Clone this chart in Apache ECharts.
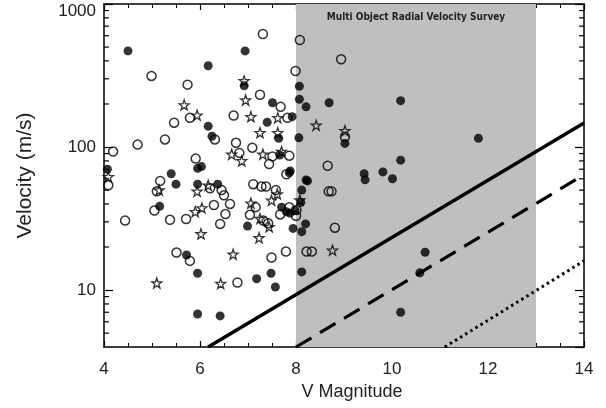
<!DOCTYPE html>
<html>
<head>
<meta charset="utf-8">
<script src="https://cdn.jsdelivr.net/npm/echarts@6/dist/echarts.min.js"></script>
<style>
  html, body { margin: 0; padding: 0; background: #fff; }
  #chart { width: 606px; height: 408px; }
</style>
</head>
<body>
<div id="chart"></div>
<script>
// [V magnitude, velocity m/s]
const filledPts = [
  [4.5, 470], [6.94, 470], [6.17, 370], [6.92, 268], [7.51, 204], [6.17, 140], [6.25, 119],
  [7.4, 149], [7.92, 163], [8.07, 216], [8.07, 266], [8.06, 116], [7.64, 115], [7.66, 88],
  [7.88, 68], [4.07, 70], [5.4, 65], [5.5, 55], [5.95, 71], [5.95, 55], [6.37, 55], [6.03, 73],
  [8.21, 191], [8.69, 204], [10.18, 211], [9.02, 106], [11.8, 115], [10.18, 81], [8.24, 58],
  [8.12, 50], [9.42, 65], [9.44, 59], [9.81, 67], [10.01, 60], [8.1, 41], [7.7, 38], [7.8, 35.3],
  [7.875, 34.5], [7.98, 36], [7.94, 27], [8.12, 25.6], [8.2, 29], [8.21, 58.8], [5.16, 38.5],
  [5.72, 17.6], [5.95, 13.1], [5.95, 6.8], [6.42, 6.6], [7.18, 12], [7.48, 13.1], [7.57, 10.5],
  [6.99, 28], [8.12, 13.4], [10.69, 18.4], [10.58, 13.2], [10.18, 7.0], [7.86, 66]
]
const openPts = [
  [7.31, 617], [8.08, 560], [8.94, 411], [4.99, 314], [5.74, 273], [7.99, 340], [7.25, 232],
  [7.68, 191], [5.79, 160], [5.46, 148], [6.70, 166], [7.82, 160], [5.27, 113], [4.70, 104],
  [4.19, 93], [5.91, 83], [6.31, 113], [6.75, 107], [7.09, 99], [6.82, 91], [7.51, 86], [7.44, 76],
  [7.86, 87], [9.02, 118], [8.66, 74], [7.80, 64.5], [8.68, 49], [8.74, 49], [4.09, 54], [5.17, 58],
  [5.10, 49], [5.05, 36], [4.44, 30.6], [5.375, 31], [5.71, 31.4], [5.51, 18.3], [5.79, 16],
  [6.78, 11.3], [7.49, 16.9], [7.79, 18.6], [6.29, 39.3], [6.53, 34], [6.42, 29], [6.625, 40],
  [6.5, 46], [6.45, 50], [6.21, 51.5], [7.11, 55], [7.28, 53], [7.375, 53], [7.58, 50], [7.16, 38],
  [7.04, 33.6], [7.32, 30.6], [7.42, 29.3], [7.67, 33.8], [7.86, 37.9], [8.01, 36.3], [8.0, 33],
  [8.81, 27.3], [8.22, 18.6], [8.33, 18.6]
]
const starPts = [
  [6.92, 290], [5.67, 197], [5.94, 167], [6.95, 213], [7.06, 163], [7.62, 160], [7.25, 126],
  [7.62, 126], [6.66, 89], [6.87, 80], [7.31, 89], [7.7, 93], [8.42, 142], [9.02, 130], [4.09, 62],
  [5.15, 50], [5.94, 49], [6.17, 54], [5.9, 35.3], [6.04, 37.5], [6.02, 24.7], [5.1, 11.2],
  [6.43, 11.1], [6.69, 17.8], [7.23, 23.2], [7.06, 40.5], [7.49, 42.4], [7.61, 47], [7.25, 31.6],
  [7.44, 27.7], [8.08, 42.6], [8.76, 19.0]
]
const solidLine = [[6.17, 4], [14, 147]]
const dashedLine = [[8.0, 4], [14, 64]]
const dottedLine = [[11.1, 4], [14, 16]]
const surveyBand = [8, 13]
const surveyLabel = "Multi Object Radial Velocity Survey"
const minorTickVals = [5, 6, 7, 8, 9, 20, 30, 40, 50, 60, 70, 80, 90, 200, 300, 400, 500, 600, 700, 800, 900]

const starPath = "path://M0,-10L2.35,-3.24L9.51,-3.09L3.8,1.24L5.88,8.09L0,4L-5.88,8.09L-3.8,1.24L-9.51,-3.09L-2.35,-3.24Z"
const textColor = "#222"
const fontFamily = "Liberation Sans, Arial, sans-serif"

function minorTicks(xPos, dx) {
  return {
    type: "custom",
    xAxisIndex: 0,
    yAxisIndex: 0,
    silent: true,
    z: 6,
    clip: false,
    data: minorTickVals.map(v => [xPos, v]),
    renderItem: (params, api) => {
      const p = api.coord([api.value(0), api.value(1)])
      return {
        type: "line",
        shape: { x1: p[0], y1: p[1], x2: p[0] + dx, y2: p[1] },
        style: { stroke: "#000", lineWidth: 1.2 }
      }
    }
  }
}

const baseX = {
  type: "value",
  min: 4,
  max: 14,
  interval: 2,
  axisLine: { show: true, onZero: false, lineStyle: { color: "#000", width: 1.5 } },
  axisTick: { show: true, inside: true, length: 6, lineStyle: { color: "#000", width: 1.2 } },
  minorTick: { show: true, splitNumber: 4, length: 4, lineStyle: { color: "#000", width: 1 } },
  splitLine: { show: false }
}

const baseY = {
  type: "log",
  logBase: 10,
  min: 4,
  max: 1000,
  axisLine: { show: true, onZero: false, lineStyle: { color: "#000", width: 1.5 } },
  axisTick: { show: true, inside: true, length: 9, lineStyle: { color: "#000", width: 1.2 } },
  splitLine: { show: false }
}

const chart = echarts.init(document.getElementById("chart"))

chart.setOption({
  animation: false,
  backgroundColor: "#fff",
  grid: { left: 104, right: 22, top: 4, bottom: 61, containLabel: false },
  xAxis: [
    {
      ...baseX,
      position: "bottom",
      name: "V Magnitude",
      nameLocation: "middle",
      nameGap: 36,
      nameTextStyle: { color: textColor, fontSize: 18, fontFamily, padding: [0, 0, 0, 16] },
      axisLabel: { color: textColor, fontSize: 17, fontFamily, margin: 14 }
    },
    { ...baseX, position: "top", axisLabel: { show: false } }
  ],
  yAxis: [
    {
      ...baseY,
      position: "left",
      name: "Velocity (m/s)",
      nameLocation: "middle",
      nameGap: 68,
      nameTextStyle: { color: textColor, fontSize: 21, fontFamily },
      axisLabel: {
        color: textColor,
        fontSize: 17,
        fontFamily,
        margin: 8,
        showMinLabel: false,
        formatter: v => (v === 1000 ? "{t|1000}" : String(v)),
        rich: { t: { color: textColor, fontSize: 17, fontFamily, padding: [15, 0, 0, 0] } }
      }
    },
    { ...baseY, position: "right", axisLabel: { show: false } }
  ],
  series: [
    {
      type: "scatter",
      data: [],
      z: 1,
      silent: true,
      markArea: {
        silent: true,
        itemStyle: { color: "#bfbfbf" },
        label: {
          show: true,
          position: "insideTop",
          distance: 8,
          color: "#222",
          fontSize: 10,
          fontWeight: "bold",
          fontFamily: "DejaVu Sans Condensed, DejaVu Sans, sans-serif",
          formatter: surveyLabel
        },
        data: [[{ xAxis: surveyBand[0] }, { xAxis: surveyBand[1] }]]
      }
    },
    {
      type: "line",
      data: solidLine,
      symbol: "none",
      z: 3,
      lineStyle: { color: "#000", width: 3.5 }
    },
    {
      type: "line",
      data: dashedLine,
      symbol: "none",
      z: 3,
      lineStyle: { color: "#000", width: 3.2, type: [18, 10] }
    },
    {
      type: "line",
      data: dottedLine,
      symbol: "none",
      z: 3,
      lineStyle: { color: "#000", width: 3, type: [2.5, 3.5] }
    },
    {
      type: "scatter",
      data: openPts,
      z: 4,
      symbol: "circle",
      symbolSize: 9,
      itemStyle: { color: "rgba(0,0,0,0)", borderColor: "#000", borderWidth: 1.5 }
    },
    {
      type: "scatter",
      data: starPts,
      z: 4,
      symbol: starPath,
      symbolSize: 10,
      itemStyle: { color: "rgba(0,0,0,0)", borderColor: "#000", borderWidth: 1.3 }
    },
    {
      type: "scatter",
      data: filledPts,
      z: 5,
      symbol: "circle",
      symbolSize: 9,
      itemStyle: { color: "#000" }
    },
    minorTicks(4, 5),
    minorTicks(14, -5)
  ]
})
</script>
</body>
</html>
